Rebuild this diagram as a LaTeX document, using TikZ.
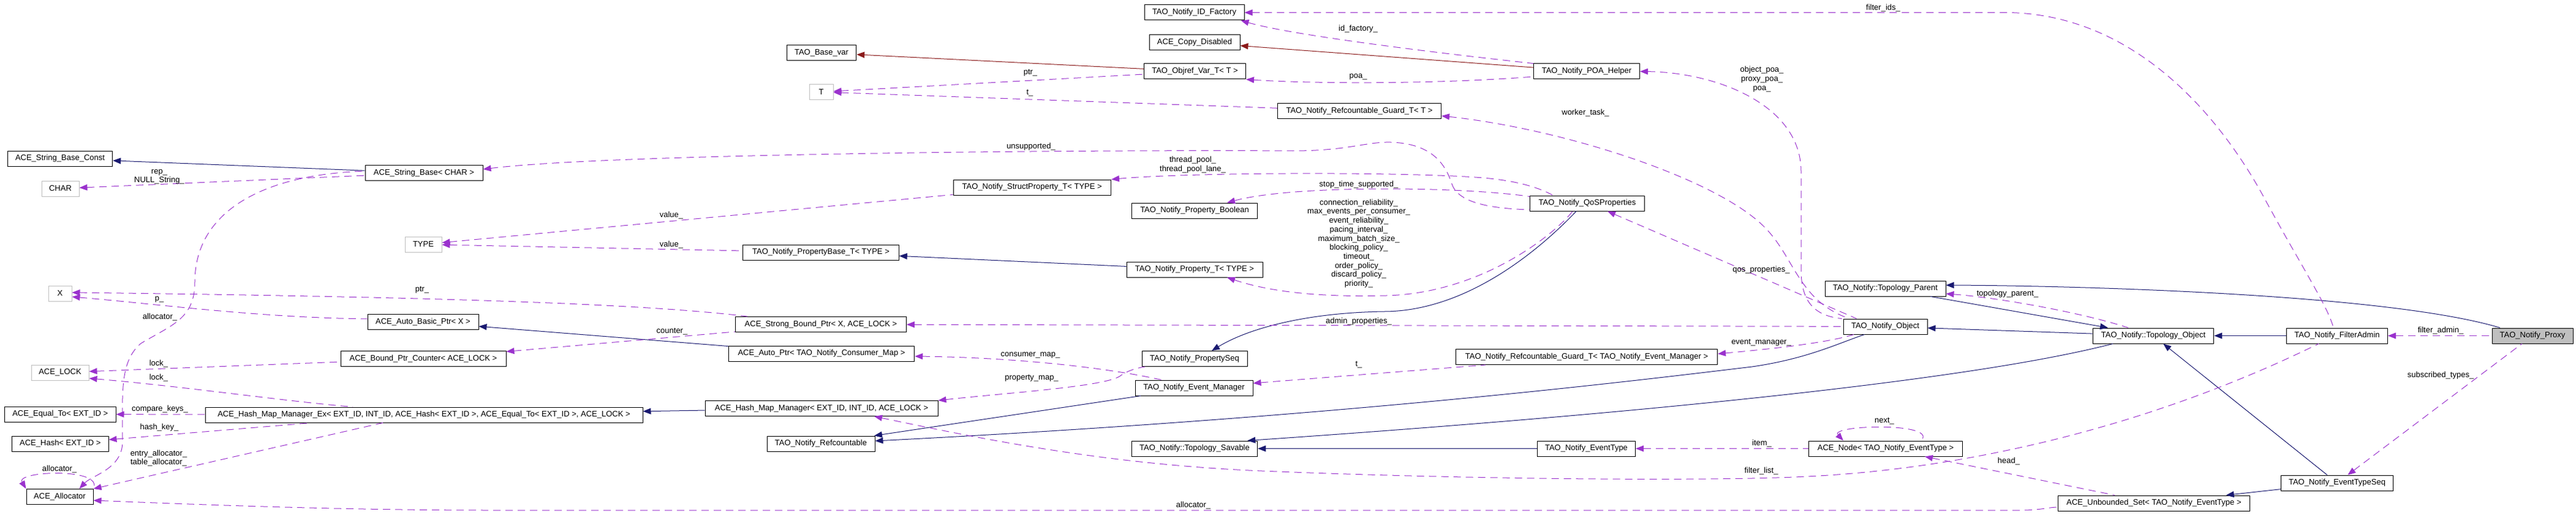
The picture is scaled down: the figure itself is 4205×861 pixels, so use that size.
\documentclass[tikz,border=0pt]{standalone}
\usepackage{fontspec}
\setmainfont{Liberation Sans}
\usepackage{tikz}
\usetikzlibrary{arrows.meta}
\definecolor{midblue}{HTML}{191970}
\definecolor{firebrick}{HTML}{8B1A1A}
\definecolor{orchid}{HTML}{9A32CD}
\definecolor{grey75}{HTML}{BFBFBF}
\newcommand{\dfont}{\fontsize{13pt}{14.7pt}\selectfont}

\begin{document}
\begin{tikzpicture}[x=1pt,y=-1pt,>={Triangle[length=13pt,width=10pt]}]
\tikzstyle{cls} = [rectangle, draw=black, line width=1pt, minimum height=25pt, inner xsep=2pt, inner ysep=0pt, text centered, font=\dfont]
\tikzstyle{undoc} = [cls, draw=grey75]
\tikzstyle{pubinh} = [color=midblue, line width=1pt]
\tikzstyle{privinh} = [color=firebrick, line width=1pt]
\tikzstyle{usage} = [color=orchid, line width=1pt, dash pattern=on 12pt off 8pt]
\tikzstyle{lbl} = [text=black, font=\dfont, align=center, inner sep=0pt]
\useasboundingbox (0,0) rectangle (4205,861);

\node[cls, minimum width=171.5pt] (strconst) at (98,258.5) {ACE\_String\_Base\_Const};
\node[undoc, minimum width=61pt] (charT) at (98.5,307.5) {CHAR};
\node[cls, minimum width=192pt] (strbase) at (692,282) {ACE\_String\_Base< CHAR >};
\node[undoc, minimum width=60pt] (typeT) at (691,398.5) {TYPE};
\node[undoc, minimum width=38pt] (xT) at (98,478.5) {X};
\node[cls, minimum width=181pt] (autobasic) at (690.5,525) {ACE\_Auto\_Basic\_Ptr< X >};
\node[undoc, minimum width=94pt] (lockT) at (98,607.5) {ACE\_LOCK};
\node[cls, minimum width=270pt] (counter) at (691,585) {ACE\_Bound\_Ptr\_Counter< ACE\_LOCK >};
\node[cls, minimum width=181.4pt] (equalto) at (98.3,675.5) {ACE\_Equal\_To< EXT\_ID >};
\node[cls, minimum width=714pt] (hmmex) at (692,676.5) {ACE\_Hash\_Map\_Manager\_Ex< EXT\_ID, INT\_ID, ACE\_Hash< EXT\_ID >, ACE\_Equal\_To< EXT\_ID >, ACE\_LOCK >};
\node[cls, minimum width=157.4pt] (hashT) at (98.3,723.5) {ACE\_Hash< EXT\_ID >};
\node[cls, minimum width=109pt] (alloc) at (97.5,810) {ACE\_Allocator};

\node[cls, minimum width=113.5pt] (basevar) at (1341,86) {TAO\_Base\_var};
\node[undoc, minimum width=39pt] (tT) at (1340.5,150) {T};
\node[cls, minimum width=254.6pt] (propbase) at (1340,411.5) {TAO\_Notify\_PropertyBase\_T< TYPE >};
\node[cls, minimum width=278.6pt] (strongptr) at (1340,529) {ACE\_Strong\_Bound\_Ptr< X, ACE\_LOCK >};
\node[cls, minimum width=303.5pt] (autoptr) at (1341,576.5) {ACE\_Auto\_Ptr< TAO\_Notify\_Consumer\_Map >};
\node[cls, minimum width=380pt] (hmm) at (1341,666) {ACE\_Hash\_Map\_Manager< EXT\_ID, INT\_ID, ACE\_LOCK >};
\node[cls, minimum width=176pt] (refcnt) at (1340,723.5) {TAO\_Notify\_Refcountable};

\node[cls, minimum width=163pt] (idfactory) at (1949.5,20.5) {TAO\_Notify\_ID\_Factory};
\node[cls, minimum width=148pt] (copydis) at (1950,69) {ACE\_Copy\_Disabled};
\node[cls, minimum width=166pt] (objref) at (1950.5,116.5) {TAO\_Objref\_Var\_T< T >};
\node[cls, minimum width=257.5pt] (structprop) at (1684.75,305.5) {TAO\_Notify\_StructProperty\_T< TYPE >};
\node[cls, minimum width=204.5pt] (propbool) at (1950,343.5) {TAO\_Notify\_Property\_Boolean};
\node[cls, minimum width=222pt] (propT) at (1950,439.5) {TAO\_Notify\_Property\_T< TYPE >};
\node[cls, minimum width=172pt] (propseq) at (1950,585) {TAO\_Notify\_PropertySeq};
\node[cls, minimum width=192pt] (evmgr) at (1949,632.5) {TAO\_Notify\_Event\_Manager};
\node[cls, minimum width=205.5pt] (savable) at (1950,731.5) {TAO\_Notify::Topology\_Savable};

\node[cls, minimum width=173pt] (poahelper) at (2590,116.5) {TAO\_Notify\_POA\_Helper};
\node[cls, minimum width=267pt] (guardT) at (2219,181) {TAO\_Notify\_Refcountable\_Guard\_T< T >};
\node[cls, minimum width=186.5pt] (qos) at (2591,331.5) {TAO\_Notify\_QoSProperties};
\node[cls, minimum width=427pt] (guardEM) at (2590,582) {TAO\_Notify\_Refcountable\_Guard\_T< TAO\_Notify\_Event\_Manager >};
\node[cls, minimum width=160pt] (evtype) at (2589.5,731.5) {TAO\_Notify\_EventType};

\node[cls, minimum width=197pt] (topparent) at (3077.5,470.5) {TAO\_Notify::Topology\_Parent};
\node[cls, minimum width=137pt] (notobj) at (3077.5,532.5) {TAO\_Notify\_Object};
\node[cls, minimum width=250.6pt] (acenode) at (3078,731.5) {ACE\_Node< TAO\_Notify\_EventType >};
\node[cls, minimum width=197.7pt] (topobj) at (3515,547.5) {TAO\_Notify::Topology\_Object};
\node[cls, minimum width=312.5pt] (unbset) at (3516,820.5) {ACE\_Unbounded\_Set< TAO\_Notify\_EventType >};
\node[cls, minimum width=164.7pt] (filteradmin) at (3815,547.5) {TAO\_Notify\_FilterAdmin};
\node[cls, minimum width=183.5pt] (etseq) at (3815,787.5) {TAO\_Notify\_EventTypeSeq};
\node[cls, fill=grey75, minimum width=132pt] (proxy) at (4134,547.5) {TAO\_Notify\_Proxy};

\draw[pubinh,<-] (strconst) -- (strbase);
\draw[pubinh,<-] (autobasic) -- (autoptr);
\draw[pubinh,<-] (hmmex) -- (hmm);
\draw[privinh,<-] (basevar) -- (objref);
\draw[privinh,<-] (copydis) -- (poahelper);
\draw[pubinh,<-] (propbase) -- (propT);
\draw[pubinh,<-] ([xshift=28pt]propseq.north) .. controls (2030,540) and (2120,510) .. (2260,508) .. controls (2400,507) and (2520,400) .. ([xshift=-18pt]qos.south);
\draw[pubinh,<-] ([yshift=4.5pt]refcnt.east) .. controls (2200,680) and (2700,617) .. (2860,598) .. controls (2950,585) and (3000,560) .. ([xshift=-34pt]notobj.south);
\draw[pubinh,<-] (refcnt) -- (evmgr);
\draw[pubinh,<-] ([xshift=-17pt]savable.north east) .. controls (2600,680) and (3200,625) .. ([xshift=-66pt]topobj.south);
\draw[pubinh,<-] (savable) -- (evtype);
\draw[pubinh,<-] (topobj) -- (topparent);
\draw[pubinh,<-] ([yshift=5.5pt]topparent.east) .. controls (3400,466) and (3900,480) .. ([xshift=-53pt]proxy.north);
\draw[pubinh,<-] (notobj) -- (topobj);
\draw[pubinh,<-] (topobj) -- (filteradmin);
\draw[pubinh,<-] (topobj) -- (etseq);
\draw[pubinh,<-] (unbset) -- (etseq);

\draw[usage,<-] (charT) -- (strbase) node[lbl] at (260,288.5) {rep\_\\NULL\_String\_};
\draw[usage,<-] ([xshift=32pt]alloc.north) .. controls (150,775) and (200,765) .. (200,720) .. controls (200,640) and (195,590) .. (230,560) .. controls (280,530) and (318,520) .. (318,460) .. controls (318,350) and (420,285) .. ([yshift=3pt]strbase.west) node[lbl] at (261,517) {allocator\_};
\draw[usage,<-] (alloc.north west) .. controls (25,768) and (170,762) .. (alloc.north east) node[lbl] at (97,765) {allocator\_};
\draw[usage,<-] ([yshift=-5.5pt]xT.east) .. controls (250,495) and (420,518) .. ([yshift=5pt]autobasic.west) node[lbl] at (260,488) {p\_};
\draw[usage,<-] ([yshift=1.5pt]xT.east) .. controls (700,484) and (1050,495) .. ([xshift=-120pt]strongptr.north) node[lbl] at (689,473) {ptr\_};
\draw[usage,<-] (counter) -- (strongptr) node[lbl] at (1097,541) {counter\_};
\draw[usage,<-] (lockT) -- (counter) node[lbl] at (259,593) {lock\_};
\draw[usage,<-] ([yshift=-9.5pt]lockT.east) .. controls (300,630) and (470,655) .. ([xshift=-116pt]hmmex.north) node[lbl] at (259,616) {lock\_};
\draw[usage,<-] (equalto) -- (hmmex) node[lbl] at (261,667) {compare\_keys\_};
\draw[usage,<-] (hashT) -- ([xshift=-183pt]hmmex.south) node[lbl] at (260,697) {hash\_key\_};
\draw[usage,<-] (alloc.north east) -- ([xshift=-67pt]hmmex.south) node[lbl] at (259,747) {entry\_allocator\_\\table\_allocator\_};
\draw[usage,<-] ([yshift=-6pt]alloc.east) .. controls (400,826) and (600,832) .. (800,832) -- (3300,832) .. controls (3330,832) and (3345,827) .. ([yshift=-6.5pt]unbset.west) node[lbl] at (1948,824) {allocator\_};
\draw[usage,<-] (tT) -- (objref) node[lbl] at (1682,119) {ptr\_};
\draw[usage,<-] (tT) -- (guardT) node[lbl] at (1681,152) {t\_};
\draw[usage,<-] ([xshift=-6pt]idfactory.south east) .. controls (2120,60) and (2380,90) .. (poahelper.north west) node[lbl] at (2217,47) {id\_factory\_};
\draw[usage,<-] (objref.south east) .. controls (2150,137) and (2350,137) .. ([yshift=-8.5pt]poahelper.west) node[lbl] at (2217,125) {poa\_};
\draw[usage,<-] (idfactory.east) -- (3280,20.5) .. controls (3480,25) and (3620,180) .. (3700,330) .. controls (3760,440) and (3800,500) .. ([xshift=-6pt]filteradmin.north) node[lbl] at (3074,13) {filter\_ids\_};
\draw[usage,<-] (poahelper.east) .. controls (2800,118) and (2940,170) .. (2940,280) -- (2940,440) .. controls (2940,490) and (2960,515) .. ([xshift=-2pt]notobj.north west) node[lbl] at (2876,129) {object\_poa\_\\proxy\_poa\_\\poa\_};
\draw[usage,<-] ([yshift=-8pt]guardT.east) .. controls (2550,210) and (2800,290) .. (2880,370) .. controls (2930,420) and (2935,490) .. ([xshift=10pt]notobj.north west) node[lbl] at (2588,184) {worker\_task\_};
\draw[usage,<-] ([xshift=33pt]qos.south) -- ([xshift=22pt]notobj.north west) node[lbl] at (2875,440) {qos\_properties\_};
\draw[usage,<-] ([yshift=6pt]strbase.east) .. controls (1000,250) and (1800,244) .. (2110,246) .. controls (2200,246) and (2230,231) .. (2270,232) .. controls (2340,234) and (2360,270) .. (2370,300) .. controls (2380,330) and (2430,340) .. ([yshift=-10.5pt]qos.west) node[lbl] at (1683,239) {unsupported\_};
\draw[usage,<-] (structprop.north east) .. controls (1950,280) and (2350,280) .. (2440,292) .. controls (2490,298) and (2520,310) .. ([xshift=-56pt]qos.north) node[lbl] at (1947,268.5) {thread\_pool\_\\thread\_pool\_lane\_};
\draw[usage,<-] ([xshift=53pt]propbool.north) .. controls (2060,315) and (2150,308) .. (2263,308) .. controls (2380,308) and (2460,315) .. ([yshift=11pt]qos.west) node[lbl] at (2218,301) {stop\_time\_supported\_};
\draw[usage,<-] ([xshift=53pt]propT.south) .. controls (2070,475) and (2150,485) .. (2263,482) .. controls (2420,478) and (2540,380) .. ([xshift=-24pt]qos.south) node[lbl] at (2218,397) {connection\_reliability\_\\max\_events\_per\_consumer\_\\event\_reliability\_\\pacing\_interval\_\\maximum\_batch\_size\_\\blocking\_policy\_\\timeout\_\\order\_policy\_\\discard\_policy\_\\priority\_};
\draw[usage,<-] (typeT) -- (structprop) node[lbl] at (1096,351) {value\_};
\draw[usage,<-] (typeT) -- (propbase) node[lbl] at (1096,399) {value\_};
\draw[usage,<-] (strongptr) -- (notobj) node[lbl] at (2218,524) {admin\_properties\_};
\draw[usage,<-] ([yshift=5pt]guardEM.east) .. controls (2880,570) and (2980,560) .. ([xshift=-51.5pt]notobj.south) node[lbl] at (2875,559) {event\_manager\_};
\draw[usage,<-] (evmgr) -- (guardEM) node[lbl] at (2218,595) {t\_};
\draw[usage,<-] (hmm.north east) .. controls (1650,640) and (1810,630) .. (1830,612) .. controls (1840,605) and (1855,600) .. ([xshift=-81pt]propseq.south) node[lbl] at (1684,617) {property\_map\_};
\draw[usage,<-] ([yshift=-4.5pt]autoptr.east) .. controls (1650,583) and (1800,598) .. ([xshift=-53pt]evmgr.north) node[lbl] at (1682,579) {consumer\_map\_};
\draw[usage,<-] ([yshift=-8.5pt]topparent.east) .. controls (3260,485) and (3400,510) .. ([xshift=-41pt]topobj.north) node[lbl] at (3277,479) {topology\_parent\_};
\draw[usage,<-] (filteradmin) -- (proxy) node[lbl] at (3984,539) {filter\_admin\_};
\draw[usage,<-] (etseq) -- (proxy) node[lbl] at (3984,612) {subscribed\_types\_};
\draw[usage,<-] ([xshift=86pt]hmm.south) .. controls (1600,715) and (1800,757) .. (2060,768) .. controls (2400,782) and (2800,785) .. (2950,777) .. controls (3200,765) and (3500,700) .. ([xshift=-30pt]filteradmin.south) node[lbl] at (2875,768) {filter\_list\_};
\draw[usage,<-] (acenode) -- (unbset) node[lbl] at (3279,752) {head\_};
\draw[usage,<-] ([xshift=-69pt]acenode.north) .. controls (2985,693) and (3165,688) .. ([xshift=58pt]acenode.north) node[lbl] at (3076,687) {next\_};
\draw[usage,<-] (evtype) -- (acenode) node[lbl] at (2876,723) {item\_};
\end{tikzpicture}
\end{document}
